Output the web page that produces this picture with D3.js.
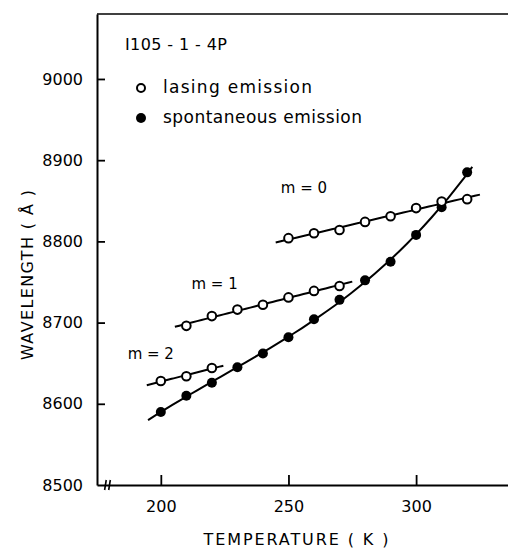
<!DOCTYPE html>
<html>
<head>
<meta charset="utf-8">
<script src="https://cdn.jsdelivr.net/npm/d3@7"></script>
<style>
  body { margin: 0; background: #fff; }
  svg { display: block; font-family: "DejaVu Sans", sans-serif; }
</style>
</head>
<body>
<div class="container"></div>
<script>
const w = 508;
const h = 549;

// temperatures (K) and wavelengths (Angstrom)
const tempM0 = [250, 260, 270, 280, 290, 300, 310, 320];
const lasingM0 = [8804, 8810, 8814, 8824, 8831, 8841, 8849, 8852];
const tempM1 = [210, 220, 230, 240, 250, 260, 270];
const lasingM1 = [8696, 8708, 8716, 8722, 8731, 8739, 8745];
const tempM2 = [200, 210, 220];
const lasingM2 = [8628, 8634, 8644];
const tempSpont = [200, 210, 220, 230, 240, 250, 260, 270, 280, 290, 300, 310, 320];
const spontaneous = [8590, 8610, 8626, 8645, 8662, 8682, 8704, 8728, 8752, 8775, 8808, 8842, 8885];

// temperature span of each fitted line
const rangeM0 = [245, 325];
const rangeM1 = [205.5, 275];
const rangeM2 = [194.5, 224.5];
const rangeSpont = [195, 322];

const xTicks = [200, 250, 300];
const yTicks = [8500, 8600, 8700, 8800, 8900, 9000];
const modeLabels = [
    { text: 'm = 0', t: 247, v: 8860 },
    { text: 'm = 1', t: 212, v: 8741 },
    { text: 'm = 2', t: 187, v: 8655 }
];

const x = d3.scaleLinear().domain([175, 336]).range([97, 508]);
const y = d3.scaleLinear().domain([8500, 9080]).range([485, 14]);

const svg = d3.select('.container')
    .append('svg')
    .attr('width', w)
    .attr('height', h);

// least squares polynomial fit, returns a function of t
function polyFit(ts, vs, deg) {
    const t0 = d3.mean(ts), s = 50;
    const n = deg + 1;
    const A = Array.from({ length: n }, () => new Array(n + 1).fill(0));
    ts.forEach((t, k) => {
        const u = (t - t0) / s;
        for (let i = 0; i < n; i++) {
            for (let j = 0; j < n; j++) A[i][j] += Math.pow(u, i + j);
            A[i][n] += vs[k] * Math.pow(u, i);
        }
    });
    for (let i = 0; i < n; i++) {
        let p = i;
        for (let r = i + 1; r < n; r++) if (Math.abs(A[r][i]) > Math.abs(A[p][i])) p = r;
        [A[i], A[p]] = [A[p], A[i]];
        for (let r = 0; r < n; r++) {
            if (r === i) continue;
            const f = A[r][i] / A[i][i];
            for (let c = i; c <= n; c++) A[r][c] -= f * A[i][c];
        }
    }
    const coef = A.map((row, i) => row[n] / row[i]);
    return t => coef.reduce((acc, c, i) => acc + c * Math.pow((t - t0) / s, i), 0);
}

const line = d3.line().x(d => x(d[0])).y(d => y(d[1]));

function drawFit(ts, vs, deg, range) {
    const f = polyFit(ts, vs, deg);
    const pts = d3.range(0, 41).map(i => {
        const t = range[0] + (range[1] - range[0]) * i / 40;
        return [t, f(t)];
    });
    svg.append('path')
        .attr('d', line(pts))
        .attr('fill', 'none')
        .attr('stroke', '#000')
        .attr('stroke-width', 2);
}

drawFit(tempM0, lasingM0, 1, rangeM0);
drawFit(tempM1, lasingM1, 1, rangeM1);
drawFit(tempM2, lasingM2, 1, rangeM2);
drawFit(tempSpont, spontaneous, 3, rangeSpont);

function drawPoints(ts, vs, filled) {
    svg.append('g')
        .selectAll('circle')
        .data(ts.map((t, i) => [t, vs[i]]))
        .join('circle')
        .attr('cx', d => x(d[0]))
        .attr('cy', d => y(d[1]))
        .attr('r', filled ? 5 : 4.3)
        .attr('fill', filled ? '#000' : '#fff')
        .attr('stroke', '#000')
        .attr('stroke-width', filled ? 0 : 2);
}

drawPoints(tempSpont, spontaneous, true);
drawPoints(tempM0, lasingM0, false);
drawPoints(tempM1, lasingM1, false);
drawPoints(tempM2, lasingM2, false);

// axes, ticks pointing inward
const xAxis = svg.append('g')
    .attr('transform', `translate(0,${y(8500)})`)
    .call(d3.axisBottom(x).tickValues(xTicks).tickFormat(d3.format('d'))
        .tickSize(-10).tickSizeOuter(0).tickPadding(16));

const yAxis = svg.append('g')
    .attr('transform', `translate(${x(175)},0)`)
    .call(d3.axisLeft(y).tickValues(yTicks).tickFormat(d3.format('d'))
        .tickSize(-8).tickSizeOuter(0).tickPadding(14));

[xAxis, yAxis].forEach(g => {
    g.select('.domain').attr('stroke-width', 2);
    g.selectAll('.tick line').attr('stroke-width', 1.8);
    g.selectAll('.tick text')
        .style('font-family', '"DejaVu Sans", sans-serif')
        .style('font-size', '16px')
        .attr('fill', '#000');
});
yAxis.selectAll('.tick').filter(d => d === 8500).select('line').remove();

// top border of the frame
svg.append('line')
    .attr('x1', x(175)).attr('x2', x(336))
    .attr('y1', y(9080)).attr('y2', y(9080))
    .attr('stroke', '#000')
    .attr('stroke-width', 1.6);

// axis break marks
[178.3, 179.9].forEach(t => {
    svg.append('line')
        .attr('x1', x(t) - 0.8).attr('x2', x(t) + 0.8)
        .attr('y1', y(8500) + 5).attr('y2', y(8500) - 5)
        .attr('stroke', '#000')
        .attr('stroke-width', 1.6);
});

// axis titles
svg.append('text')
    .attr('x', 296)
    .attr('y', 545)
    .attr('text-anchor', 'middle')
    .attr('textLength', 185)
    .attr('lengthAdjust', 'spacing')
    .style('font-size', '16px')
    .text('TEMPERATURE ( K )');

svg.append('text')
    .attr('transform', 'translate(33,275) rotate(-90)')
    .attr('text-anchor', 'middle')
    .attr('textLength', 170)
    .attr('lengthAdjust', 'spacing')
    .style('font-size', '16px')
    .text('WAVELENGTH ( Å )');

// legend
svg.append('text')
    .attr('x', 125)
    .attr('y', 50)
    .attr('textLength', 102)
    .attr('lengthAdjust', 'spacing')
    .style('font-size', '16px')
    .text('I105 - 1 - 4P');

const legend = [
    { text: 'lasing emission', filled: false, yy: 88, len: 149 },
    { text: 'spontaneous emission', filled: true, yy: 118, len: 199 }
];
legend.forEach(d => {
    svg.append('circle')
        .attr('cx', 141).attr('cy', d.yy)
        .attr('r', d.filled ? 5 : 4)
        .attr('fill', d.filled ? '#000' : '#fff')
        .attr('stroke', '#000')
        .attr('stroke-width', d.filled ? 0 : 2);
    svg.append('text')
        .attr('x', 163)
        .attr('y', d.yy + 5)
        .attr('textLength', d.len)
        .attr('lengthAdjust', 'spacing')
        .style('font-size', '17px')
        .text(d.text);
});

svg.append('g')
    .selectAll('text')
    .data(modeLabels)
    .join('text')
    .attr('x', d => x(d.t))
    .attr('y', d => y(d.v))
    .style('font-size', '15px')
    .text(d => d.text);
</script>
</body>
</html>
